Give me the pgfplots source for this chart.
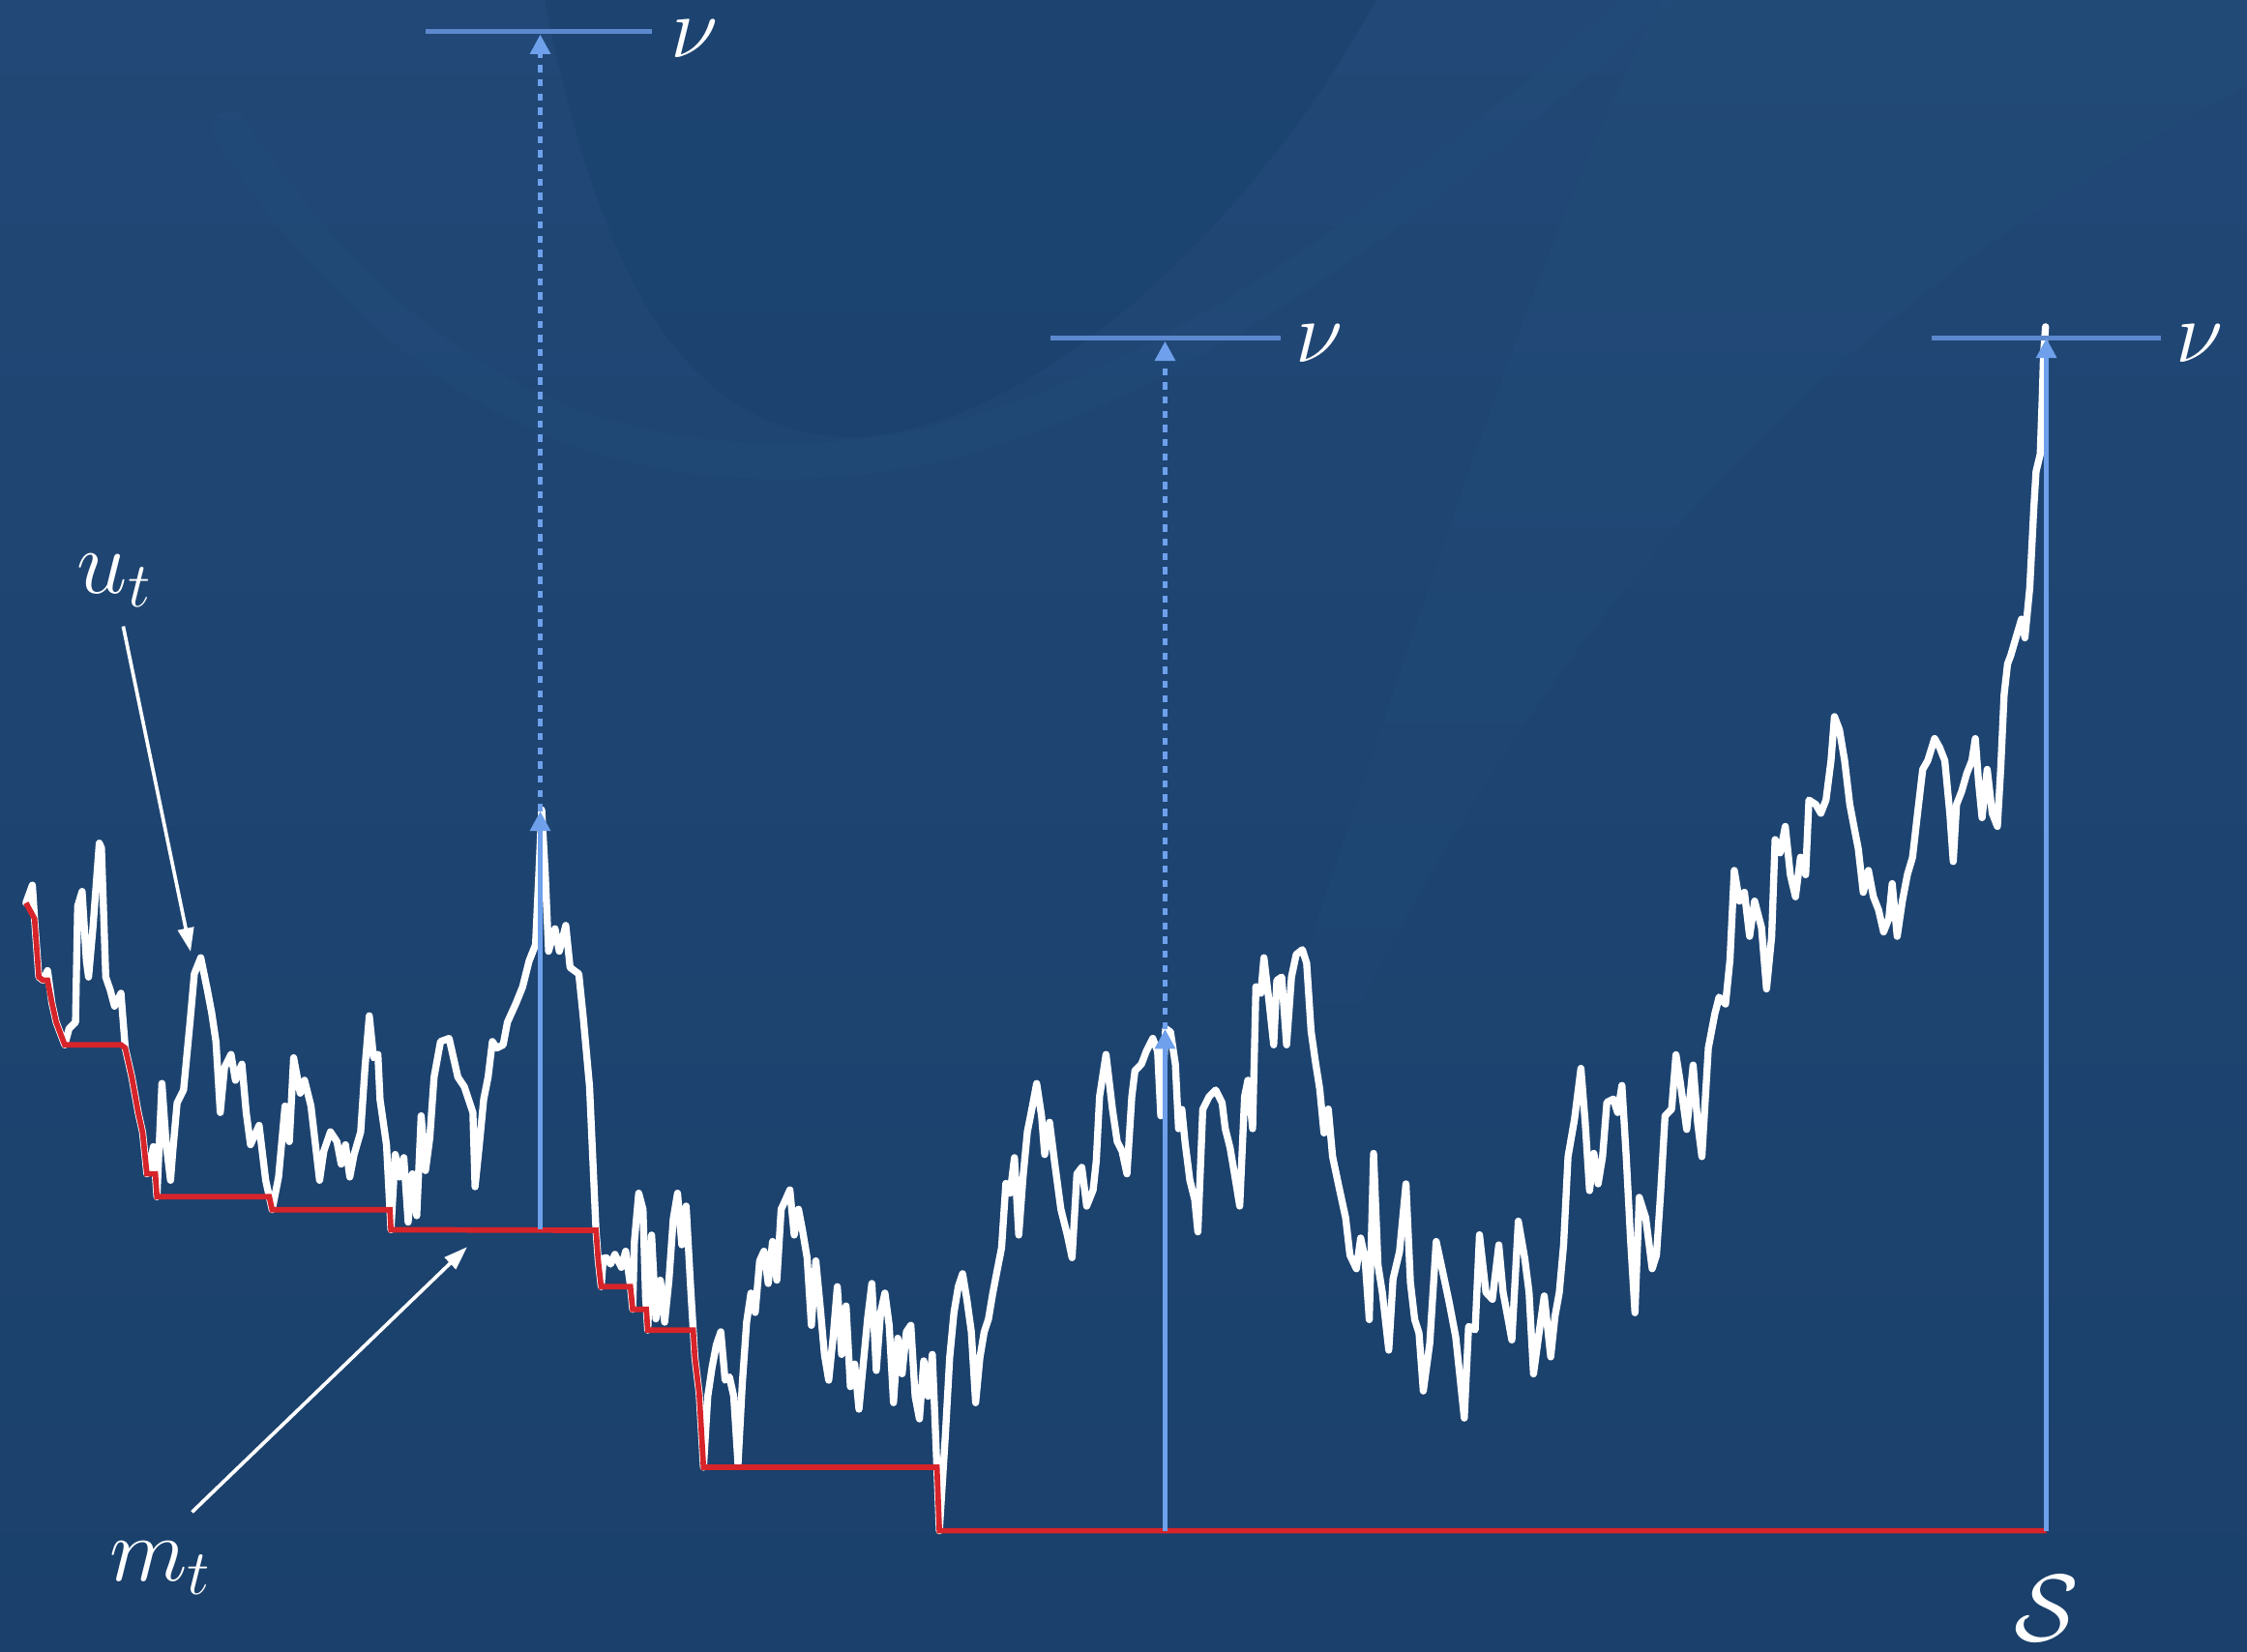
\RequirePackage{fix-cm}
\documentclass[border=0pt]{standalone}
\usepackage{pgfplots}
\pgfplotsset{compat=1.18}
\usetikzlibrary{arrows.meta}

\definecolor{bgtop}{RGB}{33,72,118}
\definecolor{bgbot}{RGB}{26,64,107}
\definecolor{bglight}{RGB}{50,98,142}
\definecolor{bgdark}{RGB}{22,62,104}
\definecolor{walk}{RGB}{255,255,255}
\definecolor{runmin}{RGB}{214,36,42}
\definecolor{arrowblue}{RGB}{110,160,236}
\definecolor{nublue}{RGB}{92,136,205}

% path u_t (x, y in drawing units, y measured downwards)
\pgfplotstableread{
x y
18.1 630
22.6 617.6
24.1 641
27.1 681.7
30.1 684
33.2 677.2
36.2 699.7
39.2 713.2
45.2 729
48.2 717.7
52.7 713.2
54.2 632.2
57.3 622
60.3 670.5
61.8 681.7
64.8 648
69.3 588.3
70.8 591.7
73.8 681.7
76.9 690.7
79.9 702
84.4 693
87.4 731.2
91.9 751
96.4 776
99.5 790
102.5 819
105 812
107 800
109.5 835
113 755.9
116 798.7
119 823.5
120.6 803
123.6 769.5
128.1 760.5
132.6 713.2
135.6 679.5
140.1 668.2
144.7 690.7
147.7 706.5
150.7 726.7
153.7 776.2
156.7 744.7
161.2 735.7
164.3 753.7
168.8 742.5
171.8 776.2
174.8 798.7
180.8 785.2
185.4 823.5
189.9 844
194.4 821.2
198.9 771.7
201.9 796.5
204.9 738
209.5 762.7
212.5 753.7
217 771.7
223 823.5
226 803
230.6 789.7
235.1 796.5
238.1 812.2
241.1 798.7
244.1 821.2
247.1 805.5
251.7 789.7
254.7 744.7
257.7 708.7
260.7 738
263.7 735.7
265.2 767.2
269.7 798.7
272.8 858
275.8 805.5
278.8 821.2
281.8 807.7
284.8 852.7
287.8 819
290.8 848.2
293.9 778.5
296.9 816.7
299.9 794.2
302.9 751.5
307.4 726.7
313.4 724.5
319.5 751.5
324 758.2
327 767.2
330 776.2
331.5 828
334.5 798.7
337.5 767.2
340.6 751.5
343.6 726.7
346.6 731.2
351.1 729
354.1 713.2
360.2 699.7
364.7 688.5
369.2 670.5
373.7 659.2
376 610
378 565
380.5 610
382.8 663.7
387.3 648
390.3 663.7
394.8 645.7
397.8 675
403.9 679.5
406.9 708.7
411.4 758.2
415.9 858.4
417.5 880
419.5 897.7
421 878
423.1 877.5
426.1 882
429.1 875.2
433.6 884.2
436.6 873
439.7 895.5
441.5 913.5
442.7 866.2
445.7 832.5
448.7 843.7
450.5 905
452 928
454.7 861.7
457.7 920.2
460.8 893.2
463.8 922.5
466.8 893.2
469.8 850.5
472.8 832.5
475.8 868.5
478.8 841.5
481.9 897.7
484.9 947.2
487.9 972
490.9 1023.7
493.9 974.2
496.9 954
499.9 938.2
503 929.2
506 963
509 960.7
512 974.2
515 1021.5
518 965.2
521 922.5
524 902.2
527 915.7
530.1 879.7
533.1 873
536.1 895.5
539.1 866.2
542.1 893.2
545.1 843.7
548.2 837
551.2 830.2
554.2 861.7
557.2 843.7
560.2 859.5
563.2 877.5
566.2 924.7
569.3 879.7
572.3 911.2
575.3 945
578.3 963
581.3 933.7
584.3 897.7
587.3 945
590.4 911.2
593.4 967.5
596.4 951.7
599.4 983.2
602.4 951.7
605.4 920.2
608.4 895.5
611.5 956.2
614.5 915.7
617.5 902.2
620.5 924.7
623.5 978.7
626.5 933.7
629.5 958.5
632.5 929.2
635.6 924.7
638.6 974.2
641.6 990
644.6 949.5
647.6 974.2
650.6 945
653.6 1019.2
655.5 1068
659.7 1001.2
662.7 947.2
665.7 915.7
668.7 897.7
671.7 888.7
674.7 906.7
677.8 929.2
680.8 978.7
683.8 947.2
686.8 929.2
689.8 920.2
692.8 902.2
695.8 886.5
698.9 870.7
701.9 825.7
704.9 832.5
707.9 807.7
710.9 861.7
713.9 821.2
716.9 789.7
720 774
723.4 756
726.8 778.5
729 805.5
732.4 783
735.8 810
740.3 843.7
744.8 861.7
748.1 877.5
751.5 819
754.9 814.5
758.3 841.5
762.8 830.2
765 810
767.3 765
771.8 735.7
776.3 774
779.6 796.5
783 803.2
786.4 819
789.8 765
792 747
796.5 742.5
799.9 733.5
804.4 724.5
807.8 733.5
810 778.5
813.4 717.7
816.8 720
820.2 742.5
822.4 787.5
824.7 774
826.9 796.5
830.3 823.5
833.7 837
835.9 859.5
839.3 774
843.8 765
848.3 760.5
852.8 769.5
855 787.5
858.4 801
861.8 821.2
865.1 841.5
868.5 765
870.8 753.7
874.1 787.5
876.4 688.5
879.8 693
882 668.2
885.4 697.5
888.8 729
891 684
894.4 681.7
897.8 729
901.2 681.7
904.5 666
908.8 662.6
911.8 672.0
914.9 719.4
917.9 740.7
920.9 759.6
923.9 790.5
926.9 773.8
929.9 807
934.4 828.4
939 849.6
942 875.7
946.5 885.2
949.5 863.8
952.5 878
955.5 920.7
958.5 804.7
961.6 882.8
964.6 901.7
969.1 942
972.1 892.3
976.6 873.3
981.1 826
984.2 894.7
987.2 920.7
990.2 930.1
993.2 970.5
997.7 937.3
1002.2 866.2
1006.8 887.5
1011.3 908.9
1015.8 932.6
1021.8 989.4
1024.8 925.5
1029.4 927.8
1032.4 861.5
1036.9 901.7
1041.4 906.5
1045.9 868.6
1048.9 901.7
1052 918.4
1055 934.9
1059.5 852.0
1064 878
1067 901.7
1070.1 958.6
1074.6 925.5
1077.6 904.2
1082.1 946.7
1085.1 918.4
1088.1 901.7
1091.1 868.6
1094.2 807
1098.7 781
1103.2 745.4
1106.2 783.3
1109.2 830.7
1112.2 804.7
1115.2 826
1118.3 807
1121.3 769.1
1125.8 766.8
1128.8 776.2
1131.8 757.3
1134.8 807
1137.9 866.2
1140.9 915.9
1143.9 835.4
1148.4 849.6
1152.9 885.2
1155.9 875.7
1158.9 830.7
1161.9 778.6
1166.5 773.8
1169.5 735.9
1172.5 754.9
1177 788
1181.5 743.1
1184.6 783.3
1187.6 807
1192.1 731.2
1196.6 707.5
1199.6 695.7
1204.1 700.5
1207.2 669.6
1210.2 607.3
1213.8 628.7
1217.3 622.6
1220.9 653.3
1224.4 628.7
1229.2 647.1
1232.7 690
1236.3 653.3
1238.7 585.8
1242.2 595
1245.8 576.6
1249.3 610.3
1252.9 625.7
1256.4 598.1
1260 610.3
1262.3 558.2
1267.1 561.3
1270.6 567.4
1274.2 558.2
1277.7 530.7
1280.1 500
1283.6 509.2
1287.2 530.7
1290.8 561.3
1294.3 579.7
1296.7 592
1300.2 622.6
1303.8 607.3
1307.3 625.7
1310.9 634.9
1314.4 650.2
1318 641
1320.4 616.5
1323.9 653.3
1327.5 628.7
1331 610.3
1334.6 598.1
1338.1 567.4
1341.7 536.8
1345.2 530.7
1350 515.3
1353.5 521.5
1357.1 530.7
1360.6 567.4
1363 601.1
1365.3 561.3
1368.9 552.1
1372.4 539.8
1376 530.7
1378.4 515.3
1380.7 546
1383.1 570.5
1386.7 536.8
1390.2 567.4
1393.8 576.6
1396.1 536.8
1398.5 484.7
1400.9 463.2
1403.2 457.1
1406.8 444.8
1410.6 432
1413 445
1416.4 410
1419.3 353
1420.8 328.9
1423.7 316.9
1425.1 277.8
1426 247.7
1427.4 228
}\walkdata

% running minimum m_t
\pgfplotstableread{
x y
18.1 630
24.1 641
27.1 681.7
30.1 684
33.2 684
36.2 699.7
39.2 713.2
45.2 729
84.4 729
87.4 731.2
91.9 751
96.4 776
99.5 790
102.5 819
108.4 819
109.5 835
187.9 835
189.9 844
272.1 844
272.8 858
415.9 858.4
417.5 880
419.5 897.7
439.9 897.7
441.5 913.5
451 913.5
452 928
483.7 928
484.9 947.2
487.9 972
490.9 1023.7
653.8 1023.7
655.5 1068
1428 1068
}\mindata

\begin{document}
\begin{tikzpicture}
\begin{axis}[
  width=20cm, height=14.697cm, scale only axis,
  xmin=0, xmax=1568, ymin=0, ymax=1152, y dir=reverse,
  axis lines=none, ticks=none, clip=false,
]
% backdrop with its faint swirl
\path[top color=bgtop, bottom color=bgbot] (rel axis cs:0,0) rectangle (rel axis cs:1,1);
\begin{scope}
\clip (axis cs:0,0) rectangle (axis cs:1568,1152);
\fill[bgdark, opacity=0.3] (axis cs:380,0) .. controls (axis cs:420,200) and (axis cs:480,300) .. (axis cs:590,305)
  .. controls (axis cs:720,305) and (axis cs:880,150) .. (axis cs:960,0) -- cycle;
\draw[bglight, opacity=0.1, line width=9pt, line cap=round]
  (axis cs:160,90) .. controls (axis cs:300,300) and (axis cs:450,330) .. (axis cs:590,320)
  .. controls (axis cs:760,305) and (axis cs:950,180) .. (axis cs:1160,-10);
\fill[bglight, opacity=0.08] (axis cs:1160,0) -- (axis cs:1568,0) -- (axis cs:1568,60)
  .. controls (axis cs:1300,200) and (axis cs:1100,400) .. (axis cs:950,700) -- (axis cs:900,700)
  .. controls (axis cs:1000,400) and (axis cs:1080,150) .. cycle;
\end{scope}

% u_t and its running minimum
\addplot[walk, line width=1.8pt, line join=round, line cap=round] table[x=x, y=y] {\walkdata};
\addplot[runmin, line width=1.4pt, line join=miter] table[x=x, y=y] {\mindata};

% level nu
\addplot[nublue, line width=1.2pt] coordinates {(297,22) (455,22)};
\addplot[nublue, line width=1.2pt] coordinates {(733,236) (894,236)};
\addplot[nublue, line width=1.2pt] coordinates {(1348,236) (1508,236)};

% vertical arrows
\addplot[arrowblue, line width=1.2pt, -{Triangle[width=5pt,length=5pt]}] coordinates {(377,858) (377,566)};
\addplot[arrowblue, line width=1.2pt, dash pattern=on 1.8pt off 1.8pt, -{Triangle[width=5pt,length=5pt]}] coordinates {(377,566) (377,24)};
\addplot[arrowblue, line width=1.2pt, -{Triangle[width=5pt,length=5pt]}] coordinates {(813,1068) (813,718)};
\addplot[arrowblue, line width=1.2pt, dash pattern=on 1.8pt off 1.8pt, -{Triangle[width=5pt,length=5pt]}] coordinates {(813,718) (813,238)};
\addplot[arrowblue, line width=1.2pt, -{Triangle[width=5pt,length=5pt]}] coordinates {(1428,1068) (1428,236)};

% labels
\node[text=white, inner sep=0pt, font=\fontsize{22}{26}\selectfont] at (axis cs:485,27) {$\nu$};
\node[text=white, inner sep=0pt, font=\fontsize{22}{26}\selectfont] at (axis cs:921,240) {$\nu$};
\node[text=white, inner sep=0pt, font=\fontsize{22}{26}\selectfont] at (axis cs:1535,240) {$\nu$};
\node[text=white, inner sep=0pt, font=\fontsize{23}{27}\selectfont] at (axis cs:80,405) {$u_t$};
\node[text=white, inner sep=0pt, font=\fontsize{23}{27}\selectfont] at (axis cs:112,1094) {$m_t$};
\node[text=white, inner sep=0pt, font=\fontsize{24}{28}\selectfont] at (axis cs:1428,1122) {$\mathcal{S}$};
\draw[white, line width=0.9pt, -{Triangle[width=4pt,length=6pt]}] (axis cs:86,437) -- (axis cs:133,664);
\draw[white, line width=0.9pt, -{Triangle[width=4pt,length=6pt]}] (axis cs:134,1055) -- (axis cs:326,870);
\end{axis}
\end{tikzpicture}
\end{document}
